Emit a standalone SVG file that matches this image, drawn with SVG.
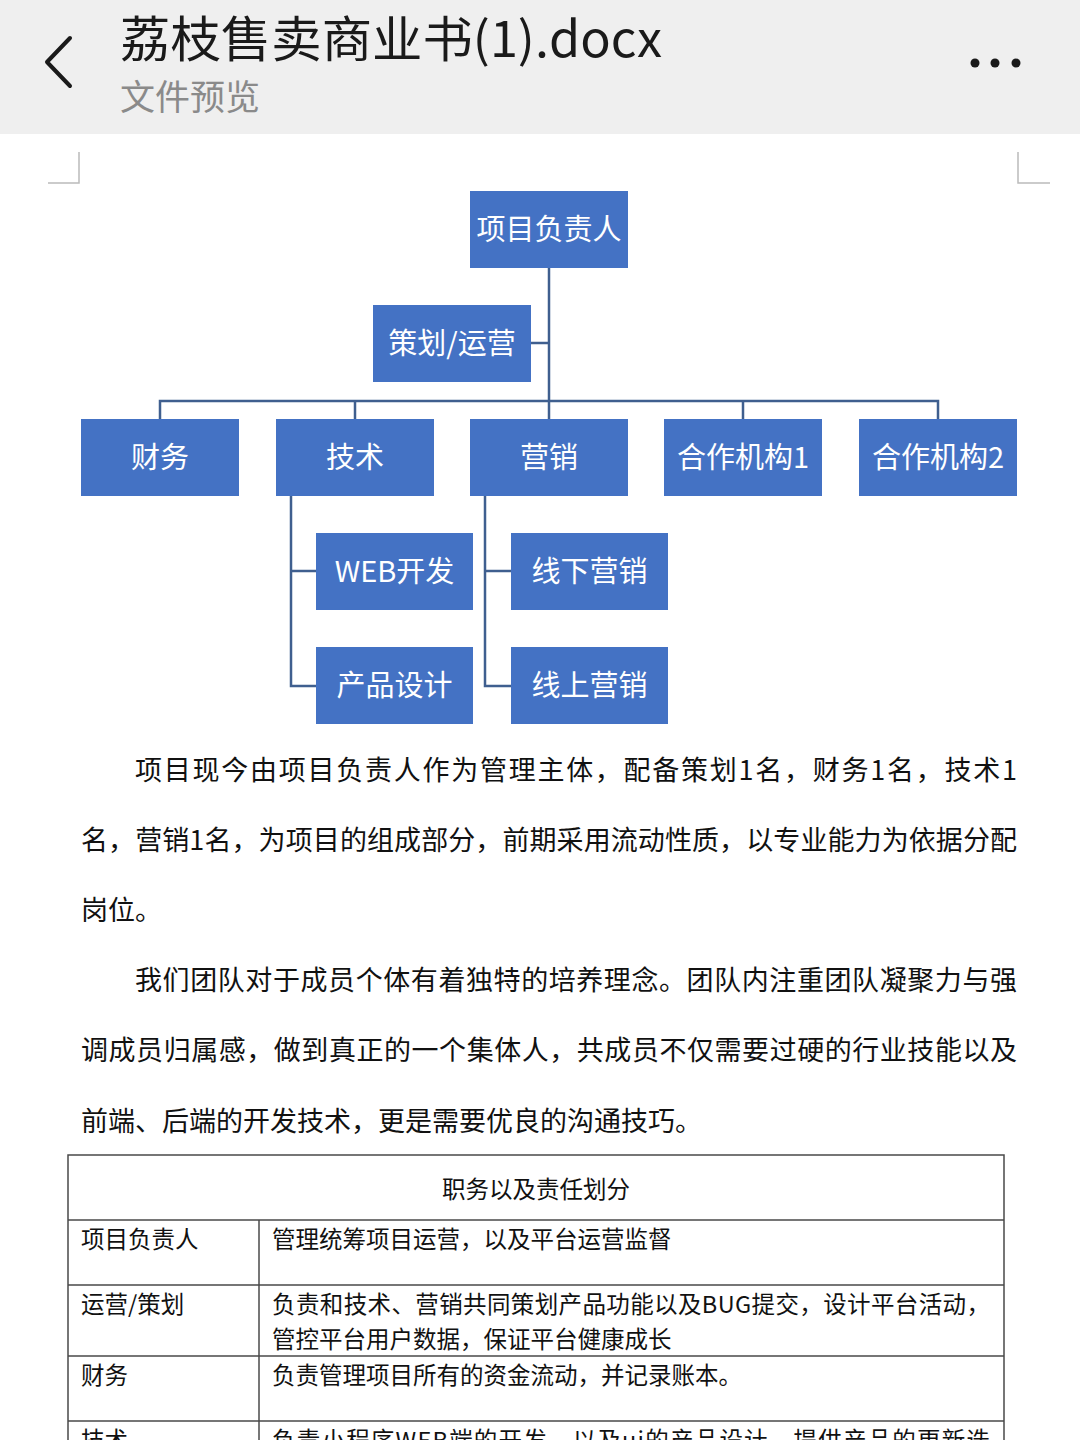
<svg xmlns="http://www.w3.org/2000/svg" width="1080" height="1440" viewBox="0 0 1080 1440">
<style>
.hdr{font-family:"Noto Sans CJK SC","Noto Sans",sans-serif;}
.node rect{fill:#4472c4;}
.node text{font-family:"Noto Sans CJK SC","Noto Sans",sans-serif;font-size:29px;fill:#ffffff;text-anchor:middle;}
.conn{stroke:#3f5f8f;stroke-width:2.5;fill:none;}
.para{font-family:"Noto Sans CJK SC","Noto Sans",sans-serif;font-size:27px;fill:#111111;}
.tbl{font-family:"Noto Sans CJK SC","Noto Sans",sans-serif;font-size:23.5px;fill:#111111;}
.grid{stroke:#4a4a4a;stroke-width:1.5;fill:none;}
</style>
<rect x="0" y="0" width="1080" height="1440" fill="#ffffff"/>
<g id="header">
<rect x="0" y="0" width="1080" height="134" fill="#efefef"/>
<path d="M70,38 L47,62 L70,86" stroke="#1a1a1a" stroke-width="4" fill="none" stroke-linecap="round" stroke-linejoin="round"/>
<text class="hdr" x="120" y="57" font-size="49" fill="#1a1a1a" textLength="542" lengthAdjust="spacingAndGlyphs">荔枝售卖商业书(1).docx</text>
<text class="hdr" x="120" y="110" font-size="35" fill="#8a8a8a">文件预览</text>
<circle cx="975" cy="63" r="4.5" fill="#1a1a1a"/>
<circle cx="995" cy="63" r="4.5" fill="#1a1a1a"/>
<circle cx="1016" cy="63" r="4.5" fill="#1a1a1a"/>
</g>
<g id="page-marks" stroke="#bbbbbb" stroke-width="1.5" fill="none">
<path d="M79,152 V183 H48"/>
<path d="M1018,152 V183 H1050"/>
</g>
<g id="connectors">
<path class="conn" d="M549,268 V419"/>
<path class="conn" d="M531,343 H549"/>
<path class="conn" d="M160,419 V401 H938 V419"/>
<path class="conn" d="M355,401 V419"/>
<path class="conn" d="M743,401 V419"/>
<path class="conn" d="M291,496 V686 H316"/>
<path class="conn" d="M291,571 H316"/>
<path class="conn" d="M485,496 V686 H511"/>
<path class="conn" d="M485,571 H511"/>
</g>
<g id="n-lead" class="node"><rect x="470" y="191" width="158" height="77"/><text x="549" y="240">项目负责人</text></g>
<g id="n-plan" class="node"><rect x="373" y="305" width="158" height="77"/><text x="452" y="354">策划/运营</text></g>
<g id="n-fin" class="node"><rect x="81" y="419" width="158" height="77"/><text x="160" y="468">财务</text></g>
<g id="n-tech" class="node"><rect x="276" y="419" width="158" height="77"/><text x="355" y="468">技术</text></g>
<g id="n-mkt" class="node"><rect x="470" y="419" width="158" height="77"/><text x="549" y="468">营销</text></g>
<g id="n-p1" class="node"><rect x="664" y="419" width="158" height="77"/><text x="743" y="468">合作机构1</text></g>
<g id="n-p2" class="node"><rect x="859" y="419" width="158" height="77"/><text x="938" y="468">合作机构2</text></g>
<g id="n-web" class="node"><rect x="316" y="533" width="157" height="77"/><text x="394.5" y="582">WEB开发</text></g>
<g id="n-pd" class="node"><rect x="316" y="647" width="157" height="77"/><text x="394.5" y="696">产品设计</text></g>
<g id="n-off" class="node"><rect x="511" y="533" width="157" height="77"/><text x="589.5" y="582">线下营销</text></g>
<g id="n-on" class="node"><rect x="511" y="647" width="157" height="77"/><text x="589.5" y="696">线上营销</text></g>
<g id="paragraphs" class="para">
<text x="135" y="780" textLength="882" lengthAdjust="spacing">项目现今由项目负责人作为管理主体，配备策划1名，财务1名，技术1</text>
<text x="81" y="850" textLength="936" lengthAdjust="spacing">名，营销1名，为项目的组成部分，前期采用流动性质，以专业能力为依据分配</text>
<text x="81" y="920">岗位。</text>
<text x="135" y="990" textLength="882" lengthAdjust="spacing">我们团队对于成员个体有着独特的培养理念。团队内注重团队凝聚力与强</text>
<text x="81" y="1060" textLength="936" lengthAdjust="spacing">调成员归属感，做到真正的一个集体人，共成员不仅需要过硬的行业技能以及</text>
<text x="81" y="1131">前端、后端的开发技术，更是需要优良的沟通技巧。</text>
</g>
<g id="table">
<path class="grid" d="M68,1440 V1155 H1004 V1440"/>
<path class="grid" d="M68,1220 H1004 M68,1285 H1004 M68,1356 H1004 M68,1421 H1004"/>
<path class="grid" d="M259,1220 V1440"/>
<g class="tbl">
<text x="536" y="1198" text-anchor="middle">职务以及责任划分</text>
<text x="81" y="1248">项目负责人</text>
<text x="272" y="1248">管理统筹项目运营，以及平台运营监督</text>
<text x="81" y="1313">运营/策划</text>
<text x="272" y="1313" textLength="718" lengthAdjust="spacing">负责和技术、营销共同策划产品功能以及BUG提交，设计平台活动，</text>
<text x="272" y="1348">管控平台用户数据，保证平台健康成长</text>
<text x="81" y="1384">财务</text>
<text x="272" y="1384">负责管理项目所有的资金流动，并记录账本。</text>
<text x="81" y="1449">技术</text>
<text x="272" y="1449" textLength="718" lengthAdjust="spacing">负责小程序WEB端的开发，以及ui的产品设计，提供产品的更新迭</text>
</g>
</g>
</svg>
